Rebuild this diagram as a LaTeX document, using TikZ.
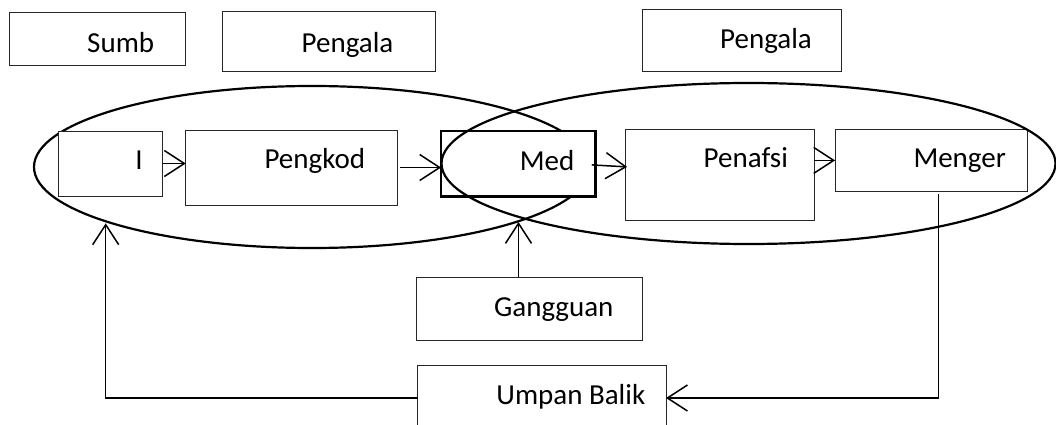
\documentclass[tikz,border=0pt]{standalone}
\usepackage{fontspec}
\setmainfont{Carlito}
\usetikzlibrary{arrows.meta,shapes.geometric,calc}
\begin{document}
\begin{tikzpicture}[x=1pt,y=-1pt,
  box/.style={draw=black!85,fill=white,line width=1pt,inner sep=0pt,outer sep=0pt},
  thickbox/.style={draw=black,fill=white,line width=2.6pt,inner sep=0pt,outer sep=0pt},
  oval/.style={ellipse,draw=black,line width=2.2pt,inner sep=0pt,outer sep=0pt},
  lbl/.style={anchor=base,inner sep=0pt,font=\fontsize{29}{34}\selectfont},
  arr/.style={line width=1.5pt,-{Straight Barb[length=20pt,width=26pt,line width=1.5pt]}},
  ln/.style={line width=1.5pt}]
\clip (0,0) rectangle (1056,425);
\useasboundingbox (0,0) rectangle (1056,425);
% left oval (behind boxes)
\node[oval,minimum width=556pt,minimum height=162pt] (elL) at (312,167) {};
% boxes
\node[box,minimum width=176.4pt,minimum height=53.4pt] (sumb) at (97.5,39) {};
\node[lbl] (sumbT) at (120.7,52.7) {Sumb};
\node[box,minimum width=213pt,minimum height=60pt] (pen1) at (328.5,41.7) {};
\node[lbl] (pen1T) at (347.5,53) {Pengala};
\node[box,minimum width=198.7pt,minimum height=62.7pt] (pen2) at (741.7,40.4) {};
\node[lbl] (pen2T) at (766,48.3) {Pengala};
\node[box,minimum width=104.4pt,minimum height=65pt] (ibox) at (110.5,163.5) {};
\node[lbl] (iT) at (139,169.3) {I};
\node[box,minimum width=211.6pt,minimum height=75pt] (pengkod) at (291.5,167.5) {};
\node[lbl] (pengkodT) at (314.8,168.3) {Pengkod};
\node[thickbox,minimum width=154.7pt,minimum height=65.7pt] (med) at (518.4,163.9) {};
\node[lbl] (medT) at (547,170) {Med};
\node[box,minimum width=189.3pt,minimum height=91.7pt] (penafsi) at (719.7,174.9) {};
\node[lbl] (penafsiT) at (745.8,167.3) {Penafsi};
\node[box,minimum width=192.3pt,minimum height=62.7pt] (menger) at (931.2,160.4) {};
\node[lbl] (mengerT) at (959.7,167.3) {Menger};
\node[box,minimum width=226.3pt,minimum height=62.7pt] (gang) at (529.2,308.7) {};
\node[lbl] (gangT) at (553.8,316) {Gangguan};
\node[box,minimum width=248.3pt,minimum height=66pt] (umpan) at (541.9,398) {};
\node[lbl] (umpanT) at (570.8,404) {Umpan Balik};
% right oval (over boxes)
\node[oval,minimum width=614pt,minimum height=161pt] (elR) at (748.5,163.5) {};
% connectors
\coordinate (fbTip) at (105.7,223.3);
\coordinate (gTip) at (518.5,222);
\coordinate (mDown) at (938.3,194);
\draw[arr] (ibox.east) -- (ibox.east -| pengkod.west);
\draw[arr] ($(pengkod.east)+(3,0)$) -- (pengkod.east -| med.west);
\draw[arr] ($(med.east)+(-4,1)$) -- ($(med.east -| penafsi.west)+(2,3)$);
\draw[arr] (menger.west -| penafsi.east) -- (menger.west);
\draw[arr] (mDown) |- (umpan.east);
\draw[arr] (umpan.west) -| (fbTip);
\draw[arr] (gTip |- gang.north) -- (gTip);
\end{tikzpicture}
\end{document}
